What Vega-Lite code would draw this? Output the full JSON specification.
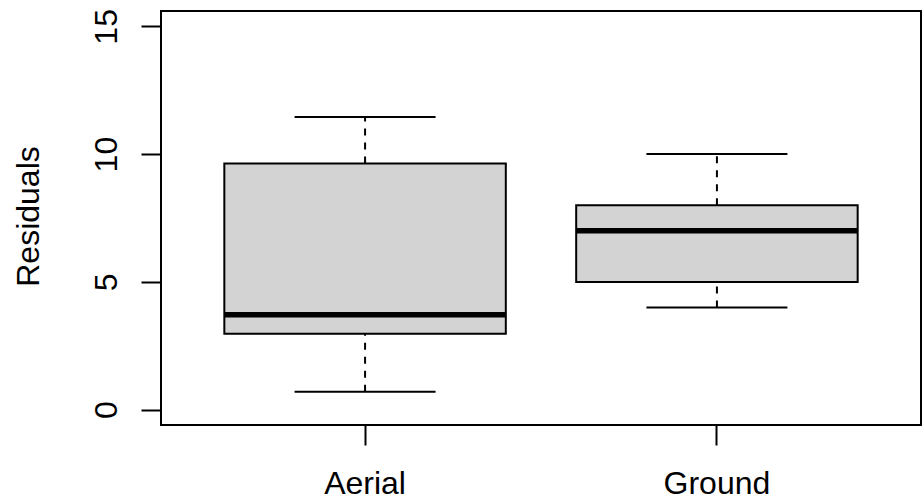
{
  "$schema": "https://vega.github.io/schema/vega-lite/v6.json",
  "autosize": "none",
  "width": 760,
  "height": 414,
  "padding": {"left": 161, "top": 11, "right": 1, "bottom": 74},
  "background": "white",
  "data": {
    "values": [
      {"group": "Aerial", "lower": 0.7, "q1": 2.97, "median": 3.71, "q3": 9.63, "upper": 11.45},
      {"group": "Ground", "lower": 4.0, "q1": 5.0, "median": 7.0, "q3": 8.0, "upper": 10.0}
    ]
  },
  "encoding": {
    "x": {
      "field": "group",
      "type": "nominal",
      "sort": ["Aerial", "Ground"],
      "scale": {"paddingInner": 0, "paddingOuter": 0.08},
      "axis": {
        "title": null,
        "domain": false,
        "grid": false,
        "bandPosition": 0.5,
        "labelAngle": 0,
        "labelFont": "Liberation Sans",
        "labelFontSize": 32,
        "labelColor": "#000",
        "labelBaseline": "alphabetic",
        "labelPadding": 48,
        "tickSize": 20,
        "tickWidth": 2,
        "tickColor": "#000"
      }
    }
  },
  "layer": [
    {
      "mark": {"type": "rule", "stroke": "#000", "strokeWidth": 2, "strokeDash": [7, 7]},
      "encoding": {
        "y": {
          "field": "lower",
          "type": "quantitative",
          "scale": {"domain": [-0.6, 15.6], "nice": false, "zero": false},
          "axis": {
            "title": "Residuals",
            "values": [0, 5, 10, 15],
            "domain": false,
            "grid": false,
            "tickSize": 20,
            "tickWidth": 2,
            "tickColor": "#000",
            "labelAngle": 270,
            "labelAlign": "center",
            "labelBaseline": "alphabetic",
            "labelPadding": 25,
            "labelFont": "Liberation Sans",
            "labelFontSize": 32,
            "labelColor": "#000",
            "titleFont": "Liberation Sans",
            "titleFontSize": 32,
            "titleFontWeight": "normal",
            "titleColor": "#000",
            "titleAngle": 270,
            "titleAlign": "center",
            "titleBaseline": "alphabetic",
            "titleX": -123,
            "titleY": 205
          }
        },
        "y2": {"field": "q1"}
      }
    },
    {
      "mark": {"type": "rule", "stroke": "#000", "strokeWidth": 2, "strokeDash": [7, 7]},
      "encoding": {
        "y": {"field": "q3", "type": "quantitative"},
        "y2": {"field": "upper"}
      }
    },
    {
      "mark": {"type": "tick", "orient": "horizontal", "color": "#000", "size": 141, "thickness": 2},
      "encoding": {"y": {"field": "lower", "type": "quantitative"}}
    },
    {
      "mark": {"type": "tick", "orient": "horizontal", "color": "#000", "size": 141, "thickness": 2},
      "encoding": {"y": {"field": "upper", "type": "quantitative"}}
    },
    {
      "mark": {"type": "bar", "fill": "#D3D3D3", "stroke": "#000", "strokeWidth": 2, "width": {"band": 0.8}},
      "encoding": {
        "y": {"field": "q1", "type": "quantitative"},
        "y2": {"field": "q3"}
      }
    },
    {
      "mark": {"type": "tick", "orient": "horizontal", "color": "#000", "size": 282, "thickness": 5.5},
      "encoding": {"y": {"field": "median", "type": "quantitative"}}
    }
  ],
  "config": {
    "view": {"stroke": "#000", "strokeWidth": 2},
    "tick": {"opacity": 1},
    "bar": {"opacity": 1}
  }
}
